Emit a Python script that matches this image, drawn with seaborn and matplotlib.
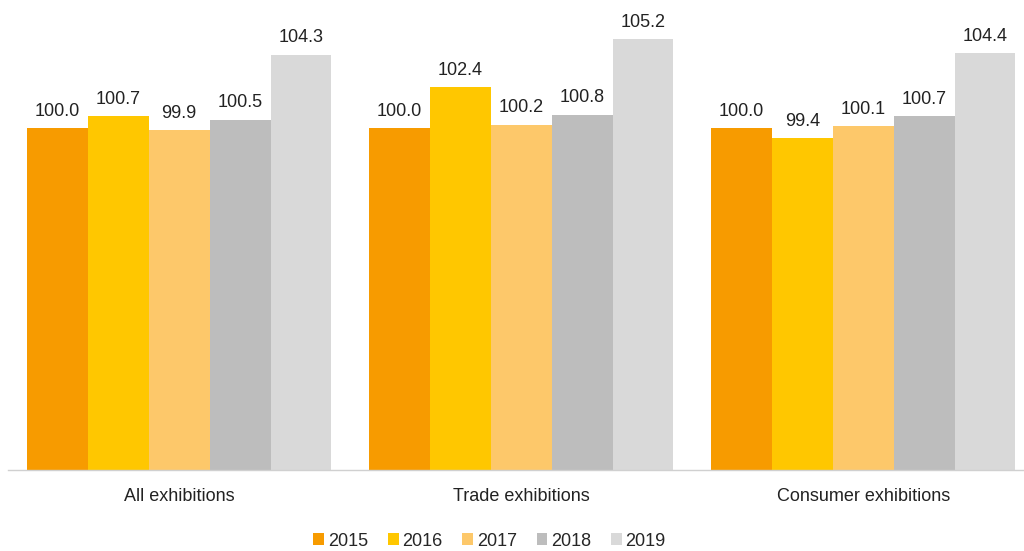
import pandas as pd
import matplotlib.pyplot as plt
import seaborn as sns
from matplotlib.patches import Patch

categories = ["All exhibitions", "Trade exhibitions", "Consumer exhibitions"]
years = ["2015", "2016", "2017", "2018", "2019"]
v2015 = [100.0, 100.0, 100.0]
v2016 = [100.7, 102.4, 99.4]
v2017 = [99.9, 100.2, 100.1]
v2018 = [100.5, 100.8, 100.7]
v2019 = [104.3, 105.2, 104.4]
colors = ["#F79B00", "#FFC700", "#FDC86A", "#BDBDBD", "#D9D9D9"]

series = [v2015, v2016, v2017, v2018, v2019]
df = pd.DataFrame([
    {"Category": c, "Year": y, "Value": vals[i]}
    for y, vals in zip(years, series)
    for i, c in enumerate(categories)
])

sns.set_theme(style="white")
plt.rcParams['font.family'] = ['Liberation Sans', 'DejaVu Sans']

fig = plt.figure(figsize=(10.24, 5.51), dpi=100)
ax = fig.add_axes([0.008, 0.147, 1.002, 0.853])

sns.barplot(data=df, x="Category", y="Value", hue="Year", palette=colors,
            width=0.89, ax=ax, legend=False, saturation=1, linewidth=0)

for cont in ax.containers:
    ax.bar_label(cont, fmt="%.1f", padding=6, fontsize=13, color="#222222")

ax.set_ylim(80, 107.5)
ax.set_xlim(-0.5, 2.5)
ax.set_xlabel("")
ax.set_ylabel("")
ax.set_yticks([])
ax.tick_params(axis="x", length=0, labelsize=13, colors="#222222", pad=13)
for s in ["top", "left", "right"]:
    ax.spines[s].set_visible(False)
ax.spines["bottom"].set_color("#D0D0D0")
ax.spines["bottom"].set_linewidth(1)

handles = [Patch(facecolor=c, edgecolor="none") for c in colors]
fig.legend(handles, years, loc="center", bbox_to_anchor=(0.478, 0.018),
           ncol=5, frameon=False, fontsize=13, handlelength=0.6,
           handleheight=0.6, handletextpad=0.2, columnspacing=1.1)

fig.savefig("out.png", dpi=100)
